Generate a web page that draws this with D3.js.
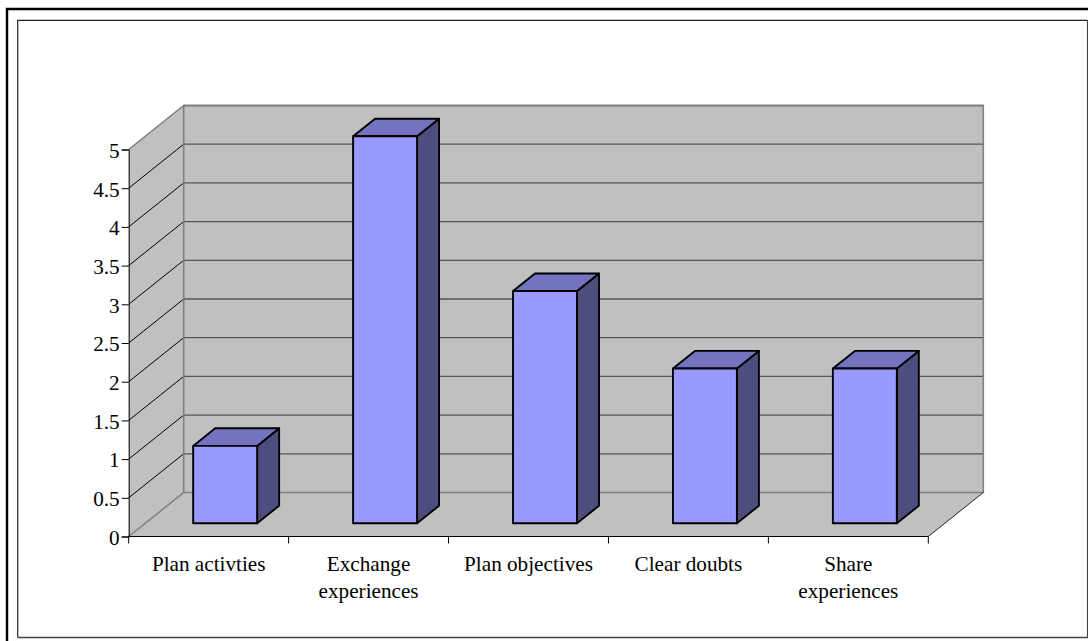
<!DOCTYPE html>
<html><head><meta charset="utf-8">
<script src="https://cdnjs.cloudflare.com/ajax/libs/d3/7.8.5/d3.min.js"></script>
<style>html,body{margin:0;padding:0;background:#fff}svg{display:block}text{font-family:"Liberation Serif",serif;font-size:21.2px;fill:#000}</style>
</head><body><svg id="c" width="1088" height="641"></svg>
<script>
const categories = ["Plan activties","Exchange experiences","Plan objectives","Clear doubts","Share experiences"];
const categoryLines = [["Plan activties"],["Exchange","experiences"],["Plan objectives"],["Clear doubts"],["Share","experiences"]];
const values = [1,5,3,2,2];
const yTicks = [0,0.5,1,1.5,2,2.5,3,3.5,4,4.5,5];
const yTickLabels = ["0","0.5","1","1.5","2","2.5","3","3.5","4","4.5","5"];
const yTop = 5;

const svg = d3.select("#c");
const x = d3.scaleBand().domain(categories).range([128.7,928.3]).paddingInner(0.6).paddingOuter(0.3);
const xOuter = d3.scaleBand().domain(categories).range([128.7,928.3]);
const y = d3.scaleLinear().domain([0,yTop]).range([536.5,149.5]);
const dx = d3.scaleLinear().domain([0,1]).range([0,55]);
const dy = d3.scaleLinear().domain([0,1]).range([0,-44]);
const x0=128.7,x1=928.3;
const pts = a => a.map(p=>p.join(",")).join(" ");
const P = (px,v,d)=>[px+dx(d),y(v)+dy(d)];

// frames
svg.append("path").attr("d","M7,641V9H1088").attr("fill","none").attr("stroke","#000").attr("stroke-width",2.4);
svg.append("path").attr("d","M17.7,637.5V20.3H1087.6").attr("fill","none").attr("stroke","#222").attr("stroke-width",1.2);
svg.append("path").attr("d","M17.7,637.5H1087.6V20.3").attr("fill","none").attr("stroke","#444").attr("stroke-width",1.4);

// walls
const wall="#c0c0c0", wallEdge="#808080";
svg.append("polygon").attr("points",pts([P(x0,0,1),P(x1,0,1),P(x1,yTop,1),P(x0,yTop,1)])).attr("fill",wall);
svg.append("polygon").attr("points",pts([P(x0,0,0),P(x0,0,1),P(x0,yTop,1),P(x0,yTop,0)])).attr("fill",wall);
svg.append("polygon").attr("points",pts([P(x0,0,0),P(x1,0,0),P(x1,0,1),P(x0,0,1)])).attr("fill",wall);

// gridlines
const gridTicks = yTicks.filter(t=>t>0&&t<yTop);
svg.selectAll(".gb").data(gridTicks.concat([yTop])).join("line").attr("class","gb")
 .attr("x1",P(x0,0,1)[0]).attr("x2",P(x1,0,1)[0]).attr("y1",d=>P(0,d,1)[1]).attr("y2",d=>P(0,d,1)[1])
 .attr("stroke","#555").attr("stroke-width",1.3);
svg.selectAll(".gs").data(gridTicks).join("line").attr("class","gs")
 .attr("x1",P(x0,0,0)[0]).attr("y1",d=>P(0,d,0)[1]).attr("x2",P(x0,0,1)[0]).attr("y2",d=>P(0,d,1)[1])
 .attr("stroke","#000").attr("stroke-width",1);

// wall edges
svg.append("polyline").attr("fill","none").attr("stroke",wallEdge).attr("stroke-width",1.6)
 .attr("points",pts([P(x0,yTop,0),P(x0,yTop,1),P(x1,yTop,1),P(x1,0,1),P(x0,0,1),P(x0,0,0)]));
svg.append("line").attr("stroke",wallEdge).attr("stroke-width",1.6)
 .attr("x1",P(x0,yTop,1)[0]).attr("y1",P(x0,yTop,1)[1]).attr("x2",P(x0,0,1)[0]).attr("y2",P(x0,0,1)[1]);
svg.append("line").attr("stroke","#222").attr("stroke-width",1)
 .attr("x1",P(x1,0,0)[0]).attr("y1",P(x1,0,0)[1]).attr("x2",P(x1,0,1)[0]).attr("y2",P(x1,0,1)[1]);

// axes
const yAxis = d3.axisLeft(y).tickValues(yTicks).tickFormat((d,i)=>yTickLabels[i]).tickSizeOuter(0).tickSize(7).tickPadding(2);
const gy = svg.append("g").attr("transform",`translate(${x0},0)`).call(yAxis);
gy.selectAll("path,line").attr("stroke","#000").attr("stroke-width",1);
gy.selectAll("text").style("font-family",'"Liberation Serif",serif').style("font-size","21.2px").attr("fill","#000").attr("dy","0.37em");

const xTickPos = categories.map(c=>xOuter(c)).concat([x1]);
svg.append("line").attr("x1",x0).attr("x2",x1).attr("y1",y(0)).attr("y2",y(0)).attr("stroke","#000").attr("stroke-width",1);
svg.selectAll(".xt").data(xTickPos).join("line").attr("class","xt")
 .attr("x1",d=>d).attr("x2",d=>d).attr("y1",y(0)).attr("y2",y(0)+7).attr("stroke","#000").attr("stroke-width",1);
const labels = svg.selectAll(".xl").data(categories).join("text").attr("class","xl").attr("text-anchor","middle");
labels.each(function(c,i){
  const cx = xOuter(c)+xOuter.bandwidth()/2;
  d3.select(this).selectAll("tspan").data(categoryLines[i]).join("tspan")
    .attr("x",cx).attr("y",(d,j)=>570.5+j*27.7).text(d=>d);
});

// bars (depth from 0.3 to 0.7 of the floor)
const d0=0.3,d1=0.7;
const bars = svg.selectAll(".bar").data(categories.map((c,i)=>({c,v:values[i]}))).join("g").attr("class","bar")
  .attr("stroke","#000").attr("stroke-width",1.9).attr("stroke-linejoin","round");
bars.append("polygon").attr("fill","#4d4d80").attr("points",d=>{const r=x(d.c)+x.bandwidth();return pts([P(r,0,d0),P(r,0,d1),P(r,d.v,d1),P(r,d.v,d0)]);});
bars.append("polygon").attr("fill","#7373bf").attr("points",d=>{const l=x(d.c),r=l+x.bandwidth();return pts([P(l,d.v,d0),P(r,d.v,d0),P(r,d.v,d1),P(l,d.v,d1)]);});
bars.append("polygon").attr("fill","#9999ff").attr("points",d=>{const l=x(d.c),r=l+x.bandwidth();return pts([P(l,0,d0),P(r,0,d0),P(r,d.v,d0),P(l,d.v,d0)]);});
</script></body></html>
